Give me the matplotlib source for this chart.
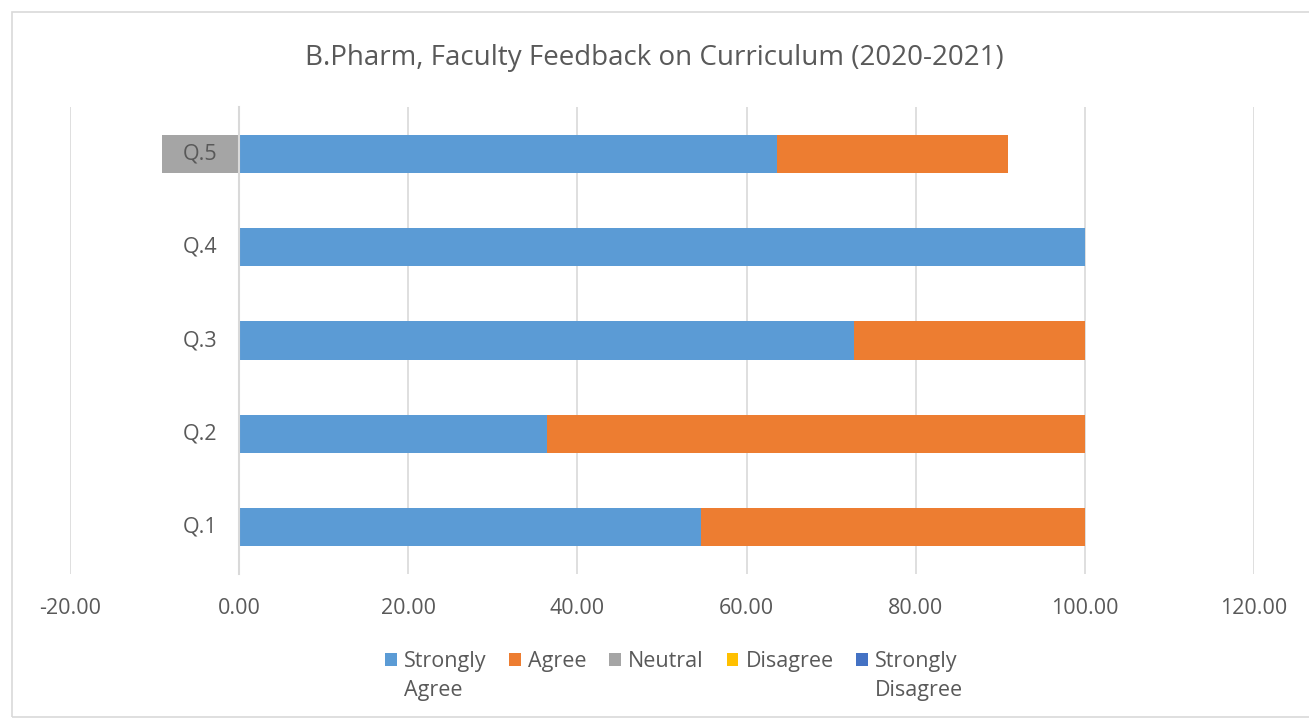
import numpy as np
import matplotlib.pyplot as plt
from matplotlib.patches import Rectangle

questions = ["Q.1", "Q.2", "Q.3", "Q.4", "Q.5"]
strongly_agree = [54.55, 36.36, 72.73, 100.00, 63.64]
agree = [45.45, 63.64, 27.27, 0.00, 27.27]
neutral = [0.00, 0.00, 0.00, 0.00, -9.09]
disagree = [0.00, 0.00, 0.00, 0.00, 0.00]
strongly_disagree = [0.00, 0.00, 0.00, 0.00, 0.00]

TEXT = "#595959"
GRID = "#D9D9D9"
FS = 15.5

plt.rcParams['font.family'] = ['Open Sans', 'DejaVu Sans']

fig = plt.figure(figsize=(13.09, 7.19), dpi=100)
ax = fig.add_axes([0.0535, 0.2017, 0.9045, 0.6493])

y = np.arange(len(questions))
h = 0.41

ax.barh(y, strongly_agree, height=h, color="#5B9BD5", label="Strongly", zorder=2)
ax.barh(y, agree, left=strongly_agree, height=h, color="#ED7D31", label="Agree", zorder=2)
ax.barh(y, neutral, height=h, color="#A5A5A5", label="Neutral", zorder=2)
ax.barh(y, disagree, height=h, color="#FFC000", label="Disagree", zorder=2)
ax.barh(y, strongly_disagree, height=h, color="#4472C4", label="Strongly", zorder=2)

ax.set_xlim(-20, 120)
ax.set_ylim(-0.5, 4.5)
ax.set_xticks(np.arange(-20, 121, 20))
ax.set_xticklabels([f"{v:.2f}" for v in np.arange(-20, 121, 20)])
ax.set_yticks([])

# category labels sit next to the zero line, on top of the bars
for yi, q in zip(y, questions):
    ax.annotate(q, (0, yi), xytext=(-16, 0), textcoords="offset points",
                ha="right", va="center", fontsize=FS, color=TEXT, zorder=5)

ax.grid(axis="x", color=GRID, linewidth=1.2, zorder=0)
for s in ["top", "right", "bottom"]:
    ax.spines[s].set_visible(False)
ax.spines["left"].set_position(("data", 0))
ax.spines["left"].set_color(GRID)
ax.spines["left"].set_linewidth(1.5)
ax.spines["left"].set_zorder(3)
ax.tick_params(axis="both", length=0, labelsize=FS, labelcolor=TEXT)
ax.tick_params(axis="x", pad=17)

fig.text(0.5, 0.919, "B.Pharm, Faculty Feedback on Curriculum (2020-2021)",
         ha="center", va="center", fontsize=20, color=TEXT)

leg = fig.legend(loc="upper center", bbox_to_anchor=(0.513, 0.11), ncol=5,
                 frameon=False, fontsize=FS, handlelength=0.55, handleheight=0.55,
                 handletextpad=0.33, columnspacing=1.05, borderpad=0)
for t in leg.get_texts():
    t.set_color(TEXT)

# second line of the wrapped legend labels
fig.canvas.draw()
inv = fig.transFigure.inverted()
for idx, extra in [(0, "Agree"), (4, "Disagree")]:
    bb = leg.get_texts()[idx].get_window_extent()
    x0, y0 = inv.transform((bb.x0, bb.y0 - 29))
    fig.text(x0, y0, extra, ha="left", va="bottom", fontsize=FS, color=TEXT)

fig.patches.append(Rectangle((0.009, 0.003), 1.2, 0.98, transform=fig.transFigure,
                             fill=False, edgecolor="#D9D9D9", linewidth=1.2))

fig.savefig("out.png", dpi=100)
